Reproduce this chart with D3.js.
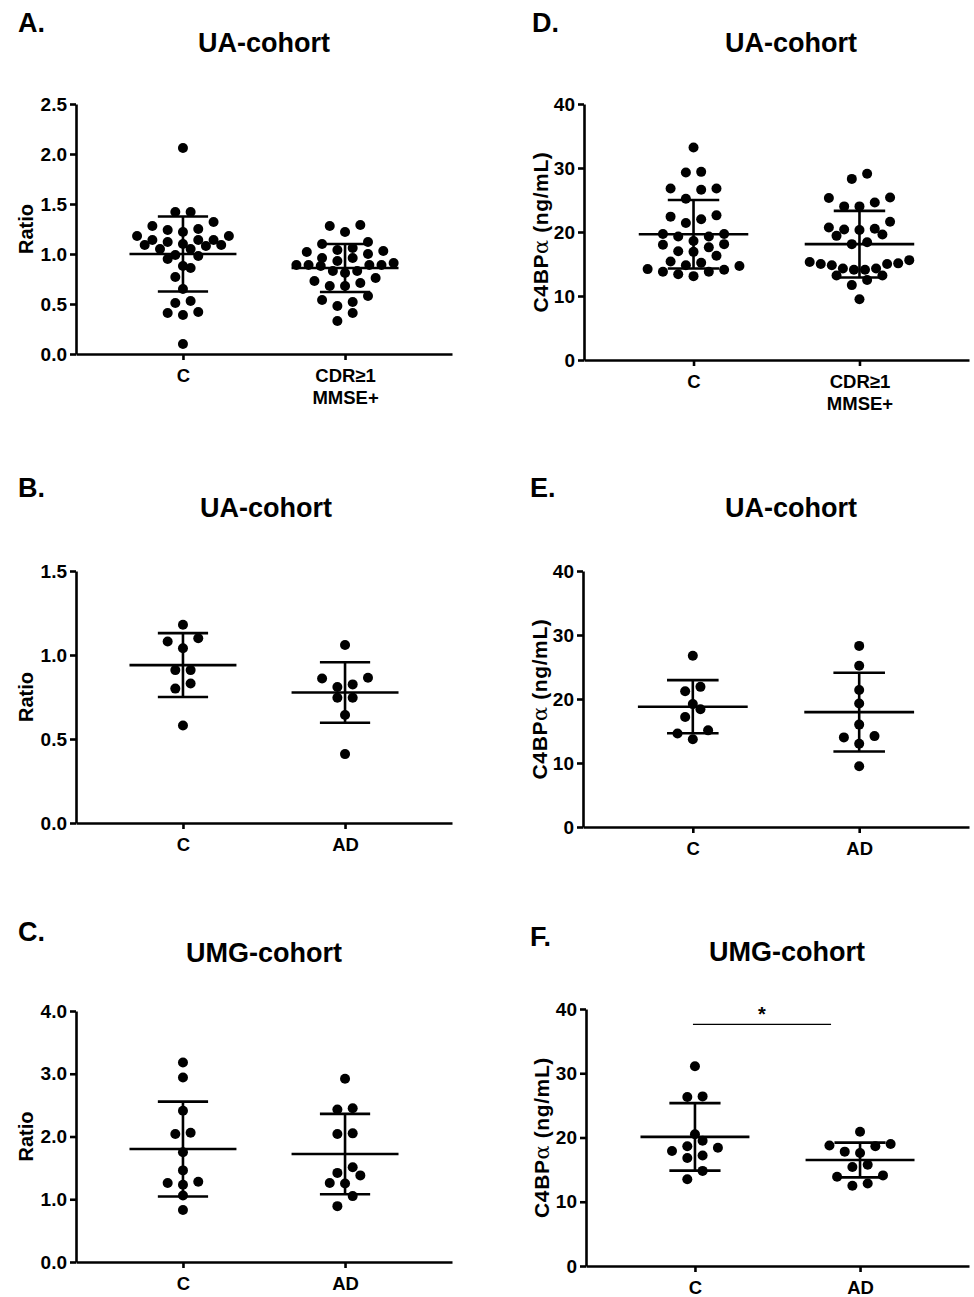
<!DOCTYPE html>
<html>
<head>
<meta charset="utf-8">
<script src="https://cdn.jsdelivr.net/npm/d3@7"></script>
<style>
  body { margin: 0; background: #fff; }
  text { font-family: "Liberation Sans", Arial, sans-serif; font-weight: bold; fill: #000; }
</style>
</head>
<body>
<div id="chart"></div>
<script>
// panel labels and titles
var panelLetters = ["A.", "B.", "C.", "D.", "E.", "F."];
var panelTitles = ["UA-cohort", "UA-cohort", "UMG-cohort", "UA-cohort", "UA-cohort", "UMG-cohort"];
var yLabels = ["Ratio", "Ratio", "Ratio", "C4BP", "C4BP", "C4BP"];
var yMaxes = [2.5, 1.5, 4.0, 40, 40, 40];
var yTickSteps = [0.5, 0.5, 1.0, 10, 10, 10];
var yTickFormats = [".1f", ".1f", ".1f", "d", "d", "d"];
var categories = [
  ["C", "CDR≥1\nMMSE+"],
  ["C", "AD"],
  ["C", "AD"],
  ["C", "CDR≥1\nMMSE+"],
  ["C", "AD"],
  ["C", "AD"]
];

// individual values, one list per group
var ratioUA_C = [2.06, 1.42, 1.42, 1.28, 1.24, 1.22, 1.25, 1.32, 1.18, 1.14, 1.12, 1.09, 1.08, 1.05, 1.05,
  1.09, 1.10, 1.14, 1.14, 1.18, 0.98, 0.95, 0.99, 0.88, 0.86, 0.77, 0.65, 0.51, 0.53, 0.41, 0.39, 0.42, 0.10];
var ratioUA_CDR = [1.28, 1.22, 1.29, 1.10, 1.04, 1.02, 1.00, 1.03, 1.06, 1.12, 0.96, 0.91, 0.89, 0.89, 0.96,
  0.88, 0.89, 0.89, 0.93, 0.83, 0.76, 0.71, 0.68, 0.68, 0.73, 0.81, 0.83, 0.58, 0.52, 0.48, 0.54, 0.41, 0.33];
var ratioUAad_C = [1.18, 1.08, 1.10, 1.04, 0.91, 0.91, 0.83, 0.80, 0.58];
var ratioUAad_AD = [1.06, 0.865, 0.86, 0.81, 0.825, 0.746, 0.746, 0.643, 0.41];
var ratioUMG_C = [3.18, 2.94, 2.41, 2.06, 2.04, 1.75, 1.46, 1.26, 1.23, 1.28, 1.06, 0.83];
var ratioUMG_AD = [2.92, 2.43, 2.45, 2.05, 2.04, 1.51, 1.42, 1.38, 1.26, 1.25, 1.05, 0.89];
var c4bpUA_C = [33.2, 29.4, 29.3, 26.8, 26.6, 26.8, 25.2, 22.4, 22.0, 22.6, 21.4, 19.7, 19.3, 19.3, 19.7,
  18.1, 17.6, 16.9, 17.0, 18.0, 18.6, 16.3, 15.2, 15.4, 14.7, 14.1, 13.8, 13.1, 13.4, 13.8, 14.2, 14.8];
var c4bpUA_CDR = [29.1, 28.3, 25.3, 25.4, 24.0, 24.0, 24.6, 21.6, 20.7, 20.4, 20.3, 20.5, 19.6, 19.4, 18.4,
  18.1, 15.3, 15.0, 14.8, 15.0, 15.1, 15.6, 14.3, 14.1, 14.1, 14.3, 13.2, 12.5, 13.2, 11.7, 9.5];
var c4bpUAad_C = [26.75, 21.2, 21.9, 18.4, 19.2, 17.2, 15.1, 14.6, 13.7];
var c4bpUAad_AD = [28.3, 25.2, 21.4, 19.3, 16.0, 14.0, 14.2, 13.0, 9.5];
var c4bpUMG_C = [31.1, 26.4, 26.3, 20.5, 19.5, 18.4, 18.65, 17.9, 17.2, 16.8, 14.8, 13.5];
var c4bpUMG_AD = [20.9, 19.0, 18.65, 18.75, 17.8, 17.6, 15.75, 15.4, 13.9, 14.1, 12.5, 12.85];

var groupValues = [
  [ratioUA_C, ratioUA_CDR],
  [ratioUAad_C, ratioUAad_AD],
  [ratioUMG_C, ratioUMG_AD],
  [c4bpUA_C, c4bpUA_CDR],
  [c4bpUAad_C, c4bpUAad_AD],
  [c4bpUMG_C, c4bpUMG_AD]
];

// mean and SD as drawn
var groupMeans = [[1.00, 0.86], [0.94, 0.777], [1.80, 1.72], [19.65, 18.1], [18.8, 17.95], [20.1, 16.5]];
var groupSDs = [[0.375, 0.24], [0.19, 0.18], [0.755, 0.64], [5.35, 5.2], [4.15, 6.15], [5.25, 2.7]];

// significance bar (panel F only)
var sigPanel = 5, sigLevel = 37.6, sigText = "*";

// panel boxes: axis origin and extents in page pixels
var boxes = [
  {x0: 76, x1: 452, y0: 104, y1: 354, lx: 18, ly: 32, tx: 264, ty: 52, ax: 33},
  {x0: 76, x1: 452, y0: 571, y1: 823, lx: 18, ly: 497, tx: 266, ty: 517, ax: 33},
  {x0: 76, x1: 452, y0: 1011, y1: 1262, lx: 18, ly: 941, tx: 264, ty: 962, ax: 33},
  {x0: 584, x1: 969, y0: 104, y1: 360, lx: 532, ly: 32, tx: 791, ty: 52, ax: 548},
  {x0: 583, x1: 969, y0: 571, y1: 827, lx: 530, ly: 497, tx: 791, ty: 517, ax: 547},
  {x0: 586, x1: 969, y0: 1009, y1: 1266, lx: 530, ly: 946, tx: 787, ty: 961, ax: 549}
];

var dotR = 5, binH = 10.5, dotGap = 15.3;

var svg = d3.select("#chart").append("svg")
  .attr("width", 974)
  .attr("height", 1297);

// prism-like scatter: points close in value share a row, spread out from the centre
function swarm(values, y, maxSpan) {
  var pts = values.map(function(v) { return {v: v, y: y(v), x: 0}; });
  var order = pts.slice().sort(function(a, b) { return a.v - b.v; });
  var bins = [], cur = null;
  order.forEach(function(p) {
    if (!cur || cur.y0 - p.y > binH) {
      cur = {y0: p.y, items: []};
      bins.push(cur);
    }
    cur.items.push(p);
  });
  bins.forEach(function(b) {
    var n = b.items.length;
    var s = n > 1 ? Math.min(dotGap, maxSpan / (n - 1)) : dotGap;
    var slots = d3.range(n).map(function(i) { return (i - (n - 1) / 2) * s; })
      .sort(function(a, c) { return Math.abs(a) - Math.abs(c) || a - c; });
    b.items.forEach(function(p, i) { p.x = slots[i]; });
  });
  return pts;
}

boxes.forEach(function(b, k) {
  var g = svg.append("g");

  var y = d3.scaleLinear().domain([0, yMaxes[k]]).range([b.y1, b.y0]);
  var x = d3.scalePoint().domain(categories[k]).range([b.x0, b.x1]).padding(0.66);

  // panel letter + title
  g.append("text").attr("x", b.lx).attr("y", b.ly)
    .style("font-size", "27px").text(panelLetters[k]);
  g.append("text").attr("x", b.tx).attr("y", b.ty)
    .attr("text-anchor", "middle").style("font-size", "27px").text(panelTitles[k]);

  // y axis
  var ticks = d3.range(0, yMaxes[k] + yTickSteps[k] / 2, yTickSteps[k]);
  var yAxis = g.append("g")
    .attr("transform", "translate(" + b.x0 + ",0)")
    .call(d3.axisLeft(y).tickValues(ticks).tickFormat(d3.format(yTickFormats[k]))
      .tickSize(6).tickSizeOuter(0).tickPadding(3));
  yAxis.selectAll("text").style("font-size", "19px").style("font-family", null);

  // x axis
  var xAxis = g.append("g")
    .attr("transform", "translate(0," + b.y1 + ")")
    .call(d3.axisBottom(x).tickSize(6).tickSizeOuter(0).tickPadding(9));
  xAxis.selectAll("text").each(function(d) {
    var t = d3.select(this), lines = d.split("\n");
    t.text(null);
    lines.forEach(function(s, i) {
      t.append("tspan").attr("x", 0).attr("dy", i === 0 ? "0.71em" : "1.2em").text(s);
    });
  }).attr("dy", null).style("font-size", "18.5px");

  svg.selectAll(".domain, .tick line").attr("stroke", "#000").attr("stroke-width", 2.6);
  svg.selectAll(".tick text").attr("fill", "#000");

  // y label
  var yl = g.append("text")
    .attr("transform", "translate(" + b.ax + "," + ((b.y0 + b.y1) / 2) + ") rotate(-90)")
    .attr("text-anchor", "middle")
    .style("font-size", "20px");
  if (yLabels[k] === "Ratio") {
    yl.text("Ratio");
  } else {
    yl.style("font-size", "21px").style("letter-spacing", "0.6px");
    yl.append("tspan").text("C4BP");
    yl.append("tspan").style("font-weight", "normal").style("font-family", "'DejaVu Serif', serif").text("α");
    yl.append("tspan").text(" (ng/mL)");
  }

  // groups
  categories[k].forEach(function(cat, j) {
    var cx = x(cat);
    var step = x.step();
    var pts = swarm(groupValues[k][j], y, step * 0.6);

    g.selectAll(null).data(pts).enter().append("circle")
      .attr("cx", function(d) { return cx + d.x; })
      .attr("cy", function(d) { return d.y; })
      .attr("r", dotR)
      .attr("fill", "#000");

    var m = groupMeans[k][j], s = groupSDs[k][j];
    var mh = step * 0.33, ch = step * 0.155;
    g.append("line").attr("x1", cx - mh).attr("x2", cx + mh)
      .attr("y1", y(m)).attr("y2", y(m));
    g.append("line").attr("x1", cx).attr("x2", cx)
      .attr("y1", y(m + s)).attr("y2", y(m - s));
    g.append("line").attr("x1", cx - ch).attr("x2", cx + ch)
      .attr("y1", y(m + s)).attr("y2", y(m + s));
    g.append("line").attr("x1", cx - ch).attr("x2", cx + ch)
      .attr("y1", y(m - s)).attr("y2", y(m - s));
  });
  g.selectAll("line").filter(function() { return !this.closest(".tick"); })
    .attr("stroke", "#000").attr("stroke-width", 2.6);

  if (k === sigPanel) {
    var c0 = x(categories[k][0]), c1 = x(categories[k][1]);
    g.append("line")
      .attr("x1", c0 - 2).attr("x2", c1 - 29)
      .attr("y1", y(sigLevel)).attr("y2", y(sigLevel))
      .attr("stroke", "#000").attr("stroke-width", 1.3);
    g.append("text")
      .attr("x", (c0 + c1 - 31) / 2).attr("y", y(sigLevel) - 3)
      .attr("text-anchor", "middle").style("font-size", "20px").text(sigText);
  }
});
</script>
</body>
</html>
